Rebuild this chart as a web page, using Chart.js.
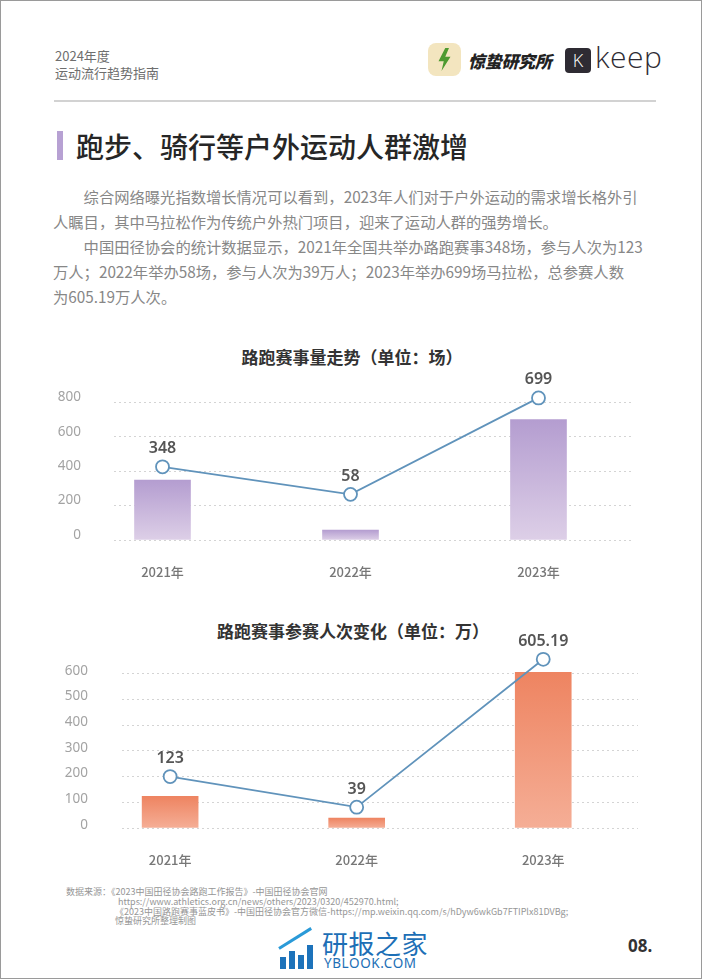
<!DOCTYPE html>
<html lang="zh-CN">
<head>
    <meta charset="UTF-8">
    <title>路跑赛事量与参赛人次</title>
    <script src="https://cdn.jsdelivr.net/npm/chart.js@4"></script>
    <style>
        html, body {
            margin: 0;
            padding: 0;
            background: #fff;
        }
        #page {
            position: relative;
            width: 702px;
            height: 979px;
            box-sizing: border-box;
            border: 1px solid #9a9a9a;
            overflow: hidden;
            font-family: "Noto Sans CJK SC", "Noto Sans", sans-serif;
        }
        .abs { position: absolute; white-space: nowrap; }
        .brand {
            left: 54px; top: 46px;
            font-size: 13px; line-height: 17px; color: #6e6e6e;
        }
        .rule {
            left: 53px; top: 99px; width: 602px; height: 2px;
            background: #d2d2d2;
        }
        .bolt-box {
            left: 427px; top: 42px; width: 33px; height: 33px;
            border-radius: 8px; background: #f3e5bf;
        }
        .bolt {
            position: absolute; left: 9px; top: 5px; width: 15px; height: 23px;
            background: #4e9a30;
            clip-path: polygon(55% 0, 10% 58%, 45% 58%, 30% 100%, 90% 38%, 55% 38%, 80% 0);
        }
        .jz {
            left: 467px; top: 48px;
            font-size: 17px; line-height: 24px; font-weight: 900; color: #222;
            font-style: italic; letter-spacing: -0.3px;
        }
        .kbox {
            left: 564px; top: 47px; width: 26px; height: 25px;
            border-radius: 4px; background: #2e2b33;
            color: #fff; font-family: "Open Sans", sans-serif; font-weight: 300;
            font-size: 18px; line-height: 25px; text-align: center;
        }
        .keep {
            left: 594px; top: 38px;
            font-family: "Open Sans", sans-serif; font-weight: 300;
            font-size: 30px; line-height: 36px; color: #2e2b33; letter-spacing: 0.5px;
        }
        .title-bar {
            left: 56px; top: 130px; width: 6px; height: 29px;
            background: #b7a1d3;
        }
        .title {
            left: 75px; top: 126px;
            font-size: 28px; line-height: 38px; font-weight: 500; color: #262626;
        }
        .para {
            left: 52px; top: 183px;
            font-size: 15.3px; line-height: 25px; color: #878787;
        }
        .para div.indent { text-indent: 2em; }
        .chart-title {
            width: 702px; left: 0; text-align: center;
            font-size: 17px; line-height: 24px; font-weight: 700; color: #333;
        }
        canvas { position: absolute; }
        .notes {
            left: 65px; top: 886px;
            font-size: 9px; line-height: 9.8px; color: #969696;
        }
        .notes .cont { padding-left: 49px; }
        .yb-icon { left: 277px; top: 932px; width: 38px; height: 36px; }
        .yb-icon span {
            position: absolute; bottom: 0; width: 6px; background: #1d73bb;
        }
        .yb-line {
            position: absolute; left: 1px; top: 14px; width: 38px; height: 3px;
            background: #2a9ad8; transform: rotate(-32deg); transform-origin: left center;
        }
        .yb-cn {
            left: 321px; top: 926px;
            font-size: 26px; line-height: 32px; color: #1d6fb6; letter-spacing: 0.5px;
        }
        .yb-en {
            left: 323px; top: 954px;
            font-family: "Noto Sans", sans-serif;
            font-size: 13.5px; line-height: 16px; color: #1d6fb6; letter-spacing: 0.6px;
        }
        .pageno {
            left: 627px; top: 934px;
            font-family: "Noto Sans", sans-serif;
            font-size: 17px; line-height: 22px; font-weight: 700; color: #333;
        }
    </style>
</head>
<body>
<div id="page">
    <div class="abs brand">2024年度<br>运动流行趋势指南</div>
    <div class="abs bolt-box"><div class="bolt"></div></div>
    <div class="abs jz">惊蛰研究所</div>
    <div class="abs kbox">K</div>
    <div class="abs keep">keep</div>
    <div class="abs rule"></div>

    <div class="abs title-bar"></div>
    <div class="abs title">跑步、骑行等户外运动人群激增</div>

    <div class="abs para">
        <div class="indent">综合网络曝光指数增长情况可以看到，2023年人们对于户外运动的需求增长格外引</div>
        <div>人瞩目，其中马拉松作为传统户外热门项目，迎来了运动人群的强势增长。</div>
        <div class="indent">中国田径协会的统计数据显示，2021年全国共举办路跑赛事348场，参与人次为123</div>
        <div>万人；2022年举办58场，参与人次为39万人；2023年举办699场马拉松，总参赛人数</div>
        <div>为605.19万人次。</div>
    </div>

    <div class="abs chart-title" style="top:344px;">路跑赛事量走势（单位：场）</div>
    <canvas id="raceChart" width="620" height="255" style="left:40px; top:334px;"></canvas>

    <div class="abs chart-title" style="top:618px; left:1px;">路跑赛事参赛人次变化（单位：万）</div>
    <canvas id="runnerChart" width="620" height="280" style="left:47px; top:597px;"></canvas>

    <div class="abs notes">
        <div>数据来源：《2023中国田径协会路跑工作报告》-中国田径协会官网</div>
        <div class="cont" style="padding-left:52px;">https://www.athletics.org.cn/news/others/2023/0320/452970.html;</div>
        <div class="cont">《2023中国路跑赛事蓝皮书》-中国田径协会官方微信-https://mp.weixin.qq.com/s/hDyw6wkGb7FTIPlx81DVBg;</div>
        <div class="cont">惊蛰研究所整理制图</div>
    </div>

    <div class="abs yb-icon">
        <span style="left:2px; height:12px;"></span>
        <span style="left:11px; height:18px;"></span>
        <span style="left:20px; height:14px;"></span>
        <span style="left:29px; height:24px;"></span>
        <div class="yb-line"></div>
    </div>
    <div class="abs yb-cn">研报之家</div>
    <div class="abs yb-en">YBLOOK.COM</div>
    <div class="abs pageno">08.</div>
</div>

<script>
    // categories
    const years = [2021, 2022, 2023];

    // chart 1: number of road races (场)
    const raceCounts = [348, 58, 699];
    const raceTrend = [425, 265, 825];      // the blue line as drawn, sits above the bars
    const raceTicks = [0, 200, 400, 600, 800];

    // chart 2: participants (万人次)
    const runnerCounts = [123, 39, 605.19];
    const runnerTrend = [200, 81, 656];
    const runnerTicks = [0, 100, 200, 300, 400, 500, 600];

    const lineBlue = '#6093bb';

    // per-bar vertical gradient, top of bar down to the baseline
    function barFill(top, bottom) {
        return function(ctx) {
            const chart = ctx.chart;
            if (!chart.chartArea || ctx.type !== 'data' || !ctx.parsed) return top;
            const ys = chart.scales.y;
            const y0 = ys.getPixelForValue(ctx.parsed.y);
            const y1 = ys.getPixelForValue(0);
            const g = chart.ctx.createLinearGradient(0, y0, 0, y1);
            g.addColorStop(0, top);
            g.addColorStop(1, bottom);
            return g;
        };
    }

    // value text above each point of the line
    const pointLabels = {
        id: 'pointLabels',
        afterDatasetsDraw(chart, args, opts) {
            const meta = chart.getDatasetMeta(1);
            const c = chart.ctx;
            c.save();
            c.font = '600 16px "Noto Sans", sans-serif';
            c.fillStyle = '#555';
            c.textAlign = 'center';
            c.textBaseline = 'middle';
            meta.data.forEach((pt, i) => {
                c.fillText(opts.texts[i], pt.x, pt.y - 18);
            });
            c.restore();
        }
    };

    // box.top / bottom are kept larger than the y-axis label padding so the plot area is exact
    function makeChart(id, counts, trend, ticks, yMax, colors, box) {
        return new Chart(document.getElementById(id), {
            data: {
                datasets: [{
                    type: 'bar',
                    order: 1,
                    data: years.map((x, i) => ({ x: x, y: counts[i] })),
                    backgroundColor: barFill(colors[0], colors[1]),
                    barThickness: 56,
                    borderWidth: 0
                }, {
                    type: 'line',
                    order: 0,
                    data: years.map((x, i) => ({ x: x, y: trend[i] })),
                    borderColor: lineBlue,
                    borderWidth: 1.8,
                    pointRadius: 6.5,
                    pointBackgroundColor: '#fff',
                    pointBorderColor: lineBlue,
                    pointBorderWidth: 1.8,
                    clip: false
                }]
            },
            options: {
                responsive: false,
                animation: false,
                layout: { padding: { top: 50, right: box.right, left: 0, bottom: 0 } },
                plugins: {
                    legend: { display: false },
                    tooltip: { enabled: false },
                    pointLabels: { texts: counts.map(String) }
                },
                scales: {
                    x: {
                        type: 'linear',
                        min: 2020.742,
                        max: 2023.508,
                        offset: false,
                        grid: { display: false, drawTicks: false, offset: false },
                        border: { display: false },
                        afterBuildTicks: s => { s.ticks = years.map(v => ({ value: v })); },
                        afterFit: s => { s.height = 50; },
                        ticks: {
                            padding: 24,
                            color: '#777',
                            font: { family: '"Noto Sans CJK SC", sans-serif', size: 13, weight: 500 },
                            callback: v => v + '年'
                        }
                    },
                    y: {
                        min: 0,
                        max: yMax,
                        afterBuildTicks: s => { s.ticks = ticks.map(v => ({ value: v })); },
                        afterFit: s => { s.width = box.axis; },
                        grid: { color: '#d4d4d4', lineWidth: 1, drawTicks: false },
                        border: { display: false, dash: [2, 3] },
                        ticks: {
                            padding: box.pad,
                            labelOffset: box.lift,
                            color: '#a3a3a3',
                            font: { family: '"Noto Sans", sans-serif', size: 13.5 }
                        }
                    }
                }
            },
            plugins: [pointLabels]
        });
    }

    makeChart('raceChart', raceCounts, raceTrend, raceTicks, 900,
        ['#b49dd0', '#ddcfe7'], { right: 27, axis: 73, pad: 33, lift: -5 });
    makeChart('runnerChart', runnerCounts, runnerTrend, runnerTicks, 700,
        ['#ee8461', '#f5ae96'], { right: 30, axis: 74, pad: 34, lift: -3 });
</script>
</body>
</html>
